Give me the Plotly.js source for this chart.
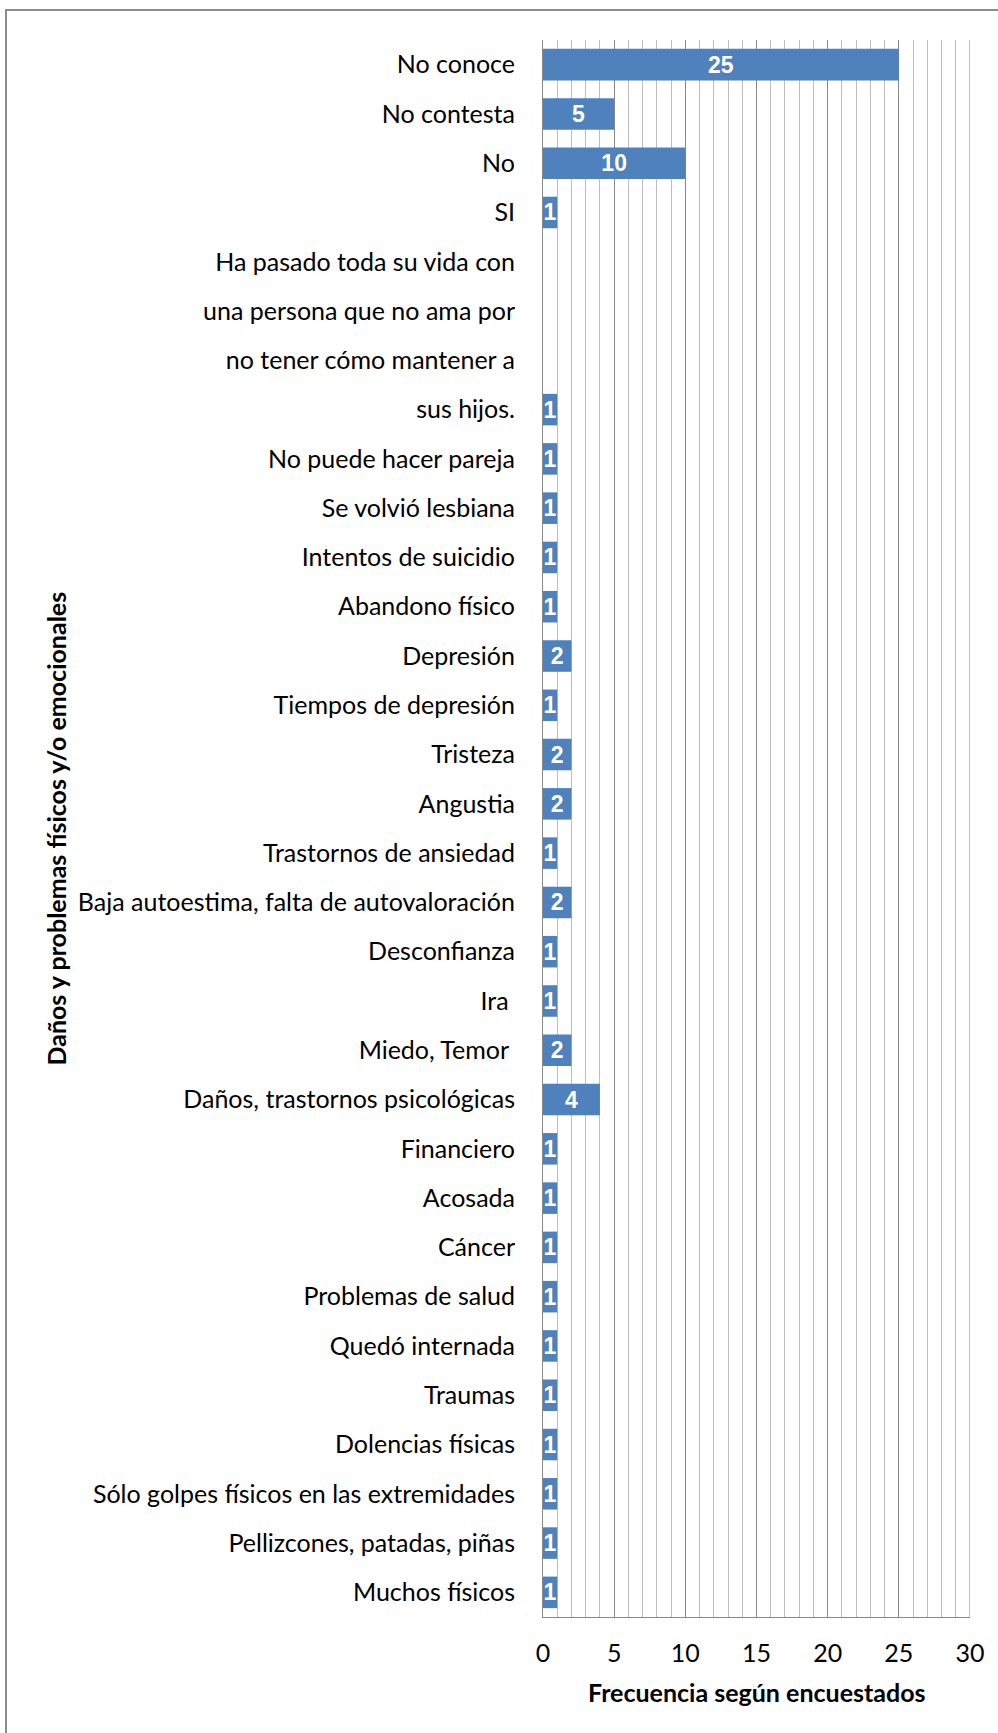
<!DOCTYPE html>
<html>
<head>
<meta charset="utf-8">
<script src="https://cdn.plot.ly/plotly-3.0.1.min.js"></script>
<style>
  html, body { margin: 0; padding: 0; background: #ffffff; }
  #wrap { position: relative; width: 998px; height: 1733px; }
  #frame { position: absolute; left: 5px; top: 9px; width: 1100px; height: 1800px;
           border-left: 2px solid #8c8c8c; border-top: 2px solid #8c8c8c; }
  #chart { position: absolute; left: 0; top: 0; width: 998px; height: 1733px; }
</style>
</head>
<body>
<div id="wrap">
  <div id="frame"></div>
  <div id="chart"></div>
</div>
<script>
// Categories, top to bottom (the long answer is wrapped over four rows)
const categories = [
  "No conoce",
  "No contesta",
  "No",
  "SI",
  "Ha pasado toda su vida con",
  "una persona que no ama por",
  "no tener cómo mantener a",
  "sus hijos.",
  "No puede hacer pareja",
  "Se volvió lesbiana",
  "Intentos de suicidio",
  "Abandono físico",
  "Depresión",
  "Tiempos de depresión",
  "Tristeza",
  "Angustia",
  "Trastornos de ansiedad",
  "Baja autoestima, falta de autovaloración",
  "Desconfianza",
  "Ira ",
  "Miedo, Temor ",
  "Daños, trastornos psicológicas",
  "Financiero",
  "Acosada",
  "Cáncer",
  "Problemas de salud",
  "Quedó internada",
  "Traumas",
  "Dolencias físicas",
  "Sólo golpes físicos en las extremidades",
  "Pellizcones, patadas, piñas",
  "Muchos físicos"
];
const frecuencia = [
  25, 5, 10, 1,
  null, null, null, 1,
  1, 1, 1, 1, 2, 1, 2, 2, 1, 2, 1, 1, 2, 4,
  1, 1, 1, 1, 1, 1, 1, 1, 1, 1
];
const xTickValues = [0, 5, 10, 15, 20, 25, 30];
const xTitle = "Frecuencia según encuestados";
const yTitle = "Daños y problemas físicos y/o emocionales";

const labelFont = "Lato, 'Open Sans', sans-serif";

const trace = {
  type: "bar",
  orientation: "h",
  x: frecuencia,
  y: categories,
  marker: { color: "#4F81BD", line: { width: 0 } },
  text: frecuencia.map(v => (v === null ? "" : String(v))),
  textposition: "inside",
  insidetextanchor: "middle",
  textangle: 0,
  constraintext: "none",
  textfont: { family: "'Liberation Sans', Arial, sans-serif", size: 23, color: "#ffffff", weight: "bold" },
  hoverinfo: "x+y",
  cliponaxis: false
};

const layout = {
  width: 998,
  height: 1733,
  paper_bgcolor: "rgba(0,0,0,0)",
  plot_bgcolor: "#ffffff",
  margin: { l: 543, r: 28, t: 40, b: 116, pad: 0 },
  bargap: 0.36,
  showlegend: false,
  uniformtext: { mode: false },
  xaxis: {
    range: [0, 30],
    tickvals: xTickValues,
    ticktext: xTickValues.map(String),
    showgrid: true,
    gridcolor: "#878787",
    gridwidth: 1,
    minor: { dtick: 1, showgrid: true, gridcolor: "#bdbdbd", gridwidth: 1 },
    zeroline: false,
    showline: true,
    linecolor: "#878787",
    linewidth: 1,
    mirror: false,
    ticks: "",
    ticklabelstandoff: 14,
    tickfont: { family: labelFont, size: 25, color: "#000000" },
    fixedrange: true
  },
  yaxis: {
    type: "category",
    autorange: "reversed",
    showgrid: false,
    zeroline: false,
    showline: true,
    linecolor: "#878787",
    linewidth: 1,
    ticks: "",
    ticklabelstandoff: 22,
    tickfont: { family: labelFont, size: 25, color: "#000000" },
    automargin: false,
    fixedrange: true
  },
  shapes: [
    { type: "line", xref: "x", yref: "paper", x0: 30, x1: 30, y0: 0, y1: 1,
      line: { color: "#878787", width: 1 } }
  ],
  annotations: [
    { text: "<b>" + xTitle + "</b>", xref: "paper", yref: "paper", x: 0.5, y: 0,
      xanchor: "center", yanchor: "middle", yshift: -75, showarrow: false,
      font: { family: labelFont, size: 25, color: "#000000" } },
    { text: "<b>" + yTitle + "</b>", xref: "paper", yref: "paper", x: 0, y: 0.5,
      xanchor: "center", yanchor: "middle", xshift: -488, textangle: -90, showarrow: false,
      font: { family: labelFont, size: 25, color: "#000000" } }
  ]
};

Plotly.newPlot("chart", [trace], layout, { displayModeBar: false, staticPlot: true });
</script>
</body>
</html>
